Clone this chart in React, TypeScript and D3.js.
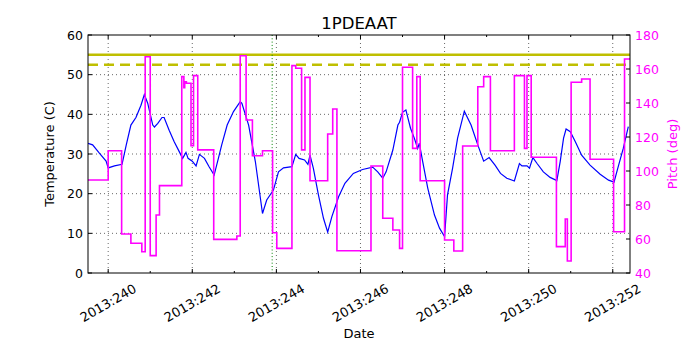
import React from "react";
import * as d3 from "d3";

// temperature samples (day of year 2013, deg C)
const tempDays = [
  239.52, 239.63, 239.79, 239.95, 240.0, 240.15, 240.33, 240.43, 240.54, 240.66,
  240.78, 240.86, 240.94, 241.06, 241.1, 241.18, 241.28, 241.33, 241.45, 241.57,
  241.69, 241.77, 241.85, 241.9, 242.0, 242.09, 242.17, 242.29, 242.4, 242.52,
  242.64, 242.7, 242.83, 242.98, 243.14, 243.18, 243.34, 243.5, 243.67, 243.77,
  243.93, 244.05, 244.17, 244.37, 244.46, 244.54, 244.67, 244.75, 244.8, 244.88,
  245.0, 245.12, 245.22, 245.32, 245.48, 245.63, 245.83, 246.05, 246.29, 246.41,
  246.53, 246.61, 246.77, 246.89, 246.93, 247.0, 247.08, 247.19, 247.28, 247.36,
  247.4, 247.48, 247.6, 247.76, 247.88, 248.0, 248.07, 248.19, 248.31, 248.47,
  248.63, 248.79, 248.93, 249.06, 249.2, 249.33, 249.48, 249.66, 249.78, 249.84,
  249.96, 250.02, 250.1, 250.2, 250.35, 250.51, 250.67, 250.75, 250.83, 250.89,
  250.99, 251.11, 251.26, 251.46, 251.7, 251.9, 252.03, 252.13, 252.25, 252.37,
];
const tempVals = [
  32.7, 32.3, 30.2, 28.2, 26.5, 27.0, 27.4, 32.3, 37.3, 39.2,
  42.3, 45.0, 42.8, 37.3, 36.8, 37.7, 39.2, 39.2, 36.0, 33.1,
  30.6, 28.9, 30.4, 28.9, 28.2, 27.0, 29.9, 28.9, 26.8, 24.7,
  29.7, 32.3, 37.3, 40.7, 43.2, 42.8, 37.3, 28.1, 15.0, 18.4,
  20.9, 25.5, 26.5, 26.8, 29.9, 28.9, 28.5, 27.4, 29.7, 26.4,
  19.7, 13.8, 10.3, 14.2, 19.2, 22.6, 25.1, 26.1, 26.7, 25.5,
  23.9, 25.5, 31.0, 37.3, 38.0, 40.5, 41.1, 36.5, 34.0, 31.4,
  32.7, 28.1, 21.4, 14.6, 11.3, 9.2, 19.7, 26.4, 34.0, 40.8,
  37.3, 32.3, 28.2, 29.1, 27.2, 25.1, 23.9, 23.2, 27.6, 27.0,
  27.0, 26.4, 29.1, 27.6, 25.5, 24.1, 23.3, 28.1, 34.0, 36.3,
  35.6, 33.1, 29.7, 27.2, 24.9, 23.4, 22.9, 26.8, 31.4, 36.9,
];

// pitch: day each step starts, and its value (deg)
const pitchDays = [
  239.52, 240.0, 240.32, 240.54, 240.8, 240.88, 241.0, 241.14, 241.22, 241.75,
  241.8, 241.82, 241.86, 241.97, 242.03, 242.13, 242.51, 243.06, 243.14, 243.28,
  243.43, 243.67, 243.91, 244.01, 244.37, 244.46, 244.6, 244.68, 244.8, 245.22,
  245.34, 245.44, 246.25, 246.53, 246.77, 246.93, 247.0, 247.24, 247.34, 247.42,
  248.0, 248.22, 248.43, 248.79, 248.93, 249.09, 249.66, 249.9, 249.96, 250.06,
  250.66, 250.87, 250.92, 251.01, 251.26, 251.46, 252.02, 252.28, 252.41,
];
const pitchVals = [
  94.7, 111.9, 62.9, 57.5, 52.5, 167.2, 50.2, 74.1, 91.4, 155.5,
  149.0, 152.5, 151.6, 114.9, 156.1, 112.4, 59.8, 61.8, 167.8, 130.0,
  109.0, 111.9, 63.7, 54.5, 162.0, 160.4, 112.4, 155.1, 94.3, 121.8,
  136.5, 53.1, 102.9, 72.2, 65.3, 54.5, 161.0, 113.3, 155.5, 94.3,
  59.4, 52.9, 114.7, 149.6, 155.5, 111.9, 156.1, 113.3, 156.1, 108.1,
  55.5, 71.8, 47.1, 152.2, 154.1, 106.9, 64.3, 165.9, 165.9,
];

const tempTicks = [0, 10, 20, 30, 40, 50, 60];
const pitchTicks = [40, 60, 80, 100, 120, 140, 160, 180];
const majorDays = [240, 242, 244, 246, 248, 250, 252];
const minorDays = [241, 243, 245, 247, 249, 251];
const limitSolid = 55;
const limitDashed = 52.5;
const markerDay = 243.9;

const W = 700, H = 350;
const L = 88, R = 630, T = 35, B = 273;
const font = "DejaVu Sans, sans-serif";

export default function App() {
  const x = d3.scaleLinear().domain([239.52, 252.41]).range([L, R]);
  const yT = d3.scaleLinear().domain([0, 60]).range([B, T]);
  const yP = d3.scaleLinear().domain([40, 180]).range([B, T]);

  const tempLine = d3.line<number>()
    .x((d, i) => x(tempDays[i]))
    .y(d => yT(d))(tempVals);
  const pitchLine = d3.line<number>()
    .x((d, i) => x(pitchDays[i]))
    .y(d => yP(d))
    .curve(d3.curveStepAfter)(pitchVals);

  return (
    <svg width={W} height={H} style={{position: "absolute", left: 0, top: 0}} fontFamily={font}>
      <rect x={0} y={0} width={W} height={H} fill="#fff" />
      <defs>
        <clipPath id="plot"><rect x={L} y={T} width={R - L} height={B - T} /></clipPath>
      </defs>

      {/* grid */}
      {majorDays.map(d => (
        <line key={"gx" + d} x1={x(d)} x2={x(d)} y1={T} y2={B} stroke="#000" strokeWidth={0.6} strokeDasharray="1,3" />
      ))}
      {tempTicks.slice(1, -1).map(t => (
        <line key={"gy" + t} x1={L} x2={R} y1={yT(t)} y2={yT(t)} stroke="#000" strokeWidth={0.6} strokeDasharray="1,3" />
      ))}

      <g clipPath="url(#plot)">
        <line x1={L} x2={R} y1={yT(limitSolid)} y2={yT(limitSolid)} stroke="#bfbf00" strokeWidth={2.5} />
        <line x1={L} x2={R} y1={yT(limitDashed)} y2={yT(limitDashed)} stroke="#bfbf00" strokeWidth={2.5} strokeDasharray="10,6" />
        <path d={tempLine ?? ""} fill="none" stroke="#0000ff" strokeWidth={1.2} />
        <line x1={x(markerDay)} x2={x(markerDay)} y1={T} y2={B} stroke="#008000" strokeWidth={1} strokeDasharray="1,2.3" />
        <path d={pitchLine ?? ""} fill="none" stroke="#ff00ff" strokeWidth={1.6} />
      </g>

      {/* frame */}
      <rect x={L} y={T} width={R - L} height={B - T} fill="none" stroke="#000" strokeWidth={1} />

      {/* x ticks */}
      {majorDays.map(d => (
        <g key={"tx" + d}>
          <line x1={x(d)} x2={x(d)} y1={B} y2={B - 4} stroke="#000" />
          <line x1={x(d)} x2={x(d)} y1={T} y2={T + 4} stroke="#000" />
          <text transform={`translate(${x(d)},303) rotate(-30)`} textAnchor="middle" dominantBaseline="central" fontSize={13}>
            {`2013:${d}`}
          </text>
        </g>
      ))}
      {minorDays.map(d => (
        <g key={"mx" + d}>
          <line x1={x(d)} x2={x(d)} y1={B} y2={B - 2} stroke="#000" />
          <line x1={x(d)} x2={x(d)} y1={T} y2={T + 2} stroke="#000" />
        </g>
      ))}

      {/* left axis */}
      {tempTicks.map(t => (
        <g key={"ty" + t}>
          <line x1={L} x2={L + 4} y1={yT(t)} y2={yT(t)} stroke="#000" />
          <text x={L - 5} y={yT(t)} textAnchor="end" dominantBaseline="central" fontSize={12.5}>{t}</text>
        </g>
      ))}

      {/* right axis */}
      {pitchTicks.map(p => (
        <g key={"tp" + p}>
          <line x1={R - 4} x2={R} y1={yP(p)} y2={yP(p)} stroke="#000" />
          <text x={R + 5} y={yP(p)} dominantBaseline="central" fontSize={12.5} fill="#ff00ff">{p}</text>
        </g>
      ))}

      <text x={(L + R) / 2} y={29} textAnchor="middle" fontSize={16.5}>1PDEAAT</text>
      <text x={(L + R) / 2} y={338} textAnchor="middle" fontSize={13}>Date</text>
      <text transform={`translate(54,${(T + B) / 2}) rotate(-90)`} textAnchor="middle" fontSize={13}>Temperature (C)</text>
      <text transform={`translate(677,${(T + B) / 2}) rotate(-90)`} textAnchor="middle" fontSize={13} fill="#ff00ff">Pitch (deg)</text>
    </svg>
  );
}
